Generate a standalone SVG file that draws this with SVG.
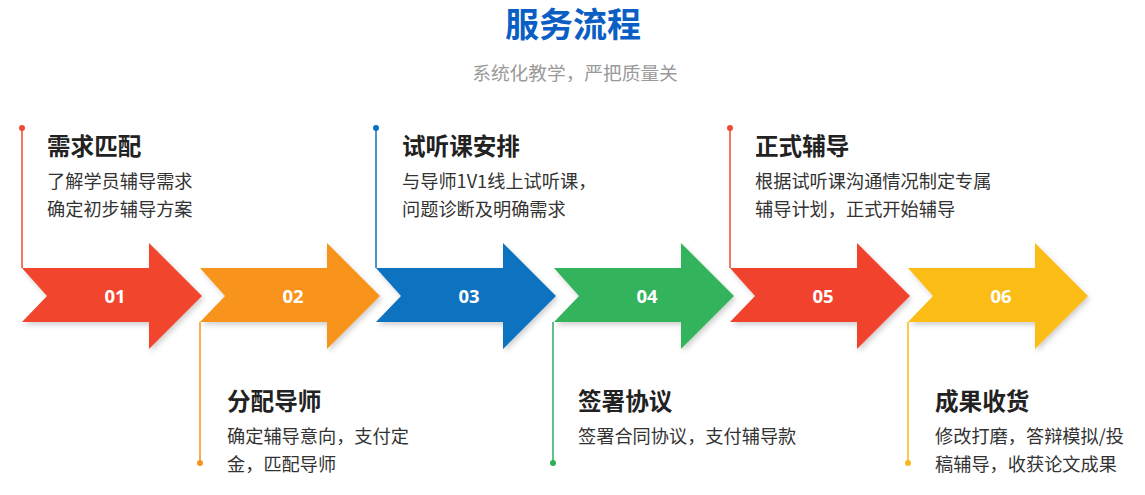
<svg xmlns="http://www.w3.org/2000/svg" width="1145" height="495" viewBox="0 0 1145 495">
<defs>
<filter id="sh" x="-10%" y="-10%" width="130%" height="130%">
<feDropShadow dx="2" dy="3" stdDeviation="2.5" flood-color="#000" flood-opacity="0.18"/>
</filter>
<path id="arrow" d="M0,268 H127 V243 L180,296 L127,349 V322 H0 L25,296 Z"/>
</defs>
<style>
.h{font-family:"Noto Sans CJK SC","Noto Sans",sans-serif;font-weight:700;font-size:34px;fill:#0B5FC4;text-anchor:middle}
.sub{font-family:"Noto Sans CJK SC","Noto Sans",sans-serif;font-size:18.7px;fill:#9a9a9a;text-anchor:middle}
.t{font-family:"Noto Sans CJK SC","Noto Sans",sans-serif;font-weight:700;font-size:23.6px;fill:#222}
.d{font-family:"Noto Sans CJK SC","Noto Sans",sans-serif;font-size:18.2px;fill:#333}
.n{font-family:"Open Sans","Noto Sans",sans-serif;font-weight:700;font-size:18.5px;fill:#fff;text-anchor:middle}
.ln{stroke-width:1.5;fill:none}
</style>
<rect width="1145" height="495" fill="#ffffff"/>
<text class="h" x="573" y="37">服务流程</text>
<text class="sub" x="575" y="80">系统化教学，严把质量关</text>

<g id="connectors">
<line class="ln" x1="22" y1="128" x2="22" y2="268" stroke="#EE4A33"/>
<circle cx="22" cy="128" r="3" fill="#EE4A33"/>
<line class="ln" x1="200" y1="322" x2="200" y2="463" stroke="#F7931E"/>
<circle cx="200" cy="463" r="3" fill="#F7931E"/>
<line class="ln" x1="376" y1="128" x2="376" y2="268" stroke="#0B72C0"/>
<circle cx="376" cy="128" r="3" fill="#0B72C0"/>
<line class="ln" x1="553" y1="322" x2="553" y2="463" stroke="#2EAE57"/>
<circle cx="553" cy="463" r="3" fill="#2EAE57"/>
<line class="ln" x1="730" y1="128" x2="730" y2="268" stroke="#EE4A33"/>
<circle cx="730" cy="128" r="3" fill="#EE4A33"/>
<line class="ln" x1="908" y1="322" x2="908" y2="463" stroke="#F9B81B"/>
<circle cx="908" cy="463" r="3" fill="#F9B81B"/>
</g>

<g id="step1">
<use href="#arrow" x="22" fill="#F1452F" filter="url(#sh)"/>
<text class="n" x="115" y="303">01</text>
<text class="t" x="47" y="155">需求匹配</text>
<text class="d" x="47" y="188">了解学员辅导需求</text>
<text class="d" x="47" y="216">确定初步辅导方案</text>
</g>
<g id="step2">
<use href="#arrow" x="200" fill="#F8931D" filter="url(#sh)"/>
<text class="n" x="293" y="303">02</text>
<text class="t" x="227" y="410">分配导师</text>
<text class="d" x="227" y="443">确定辅导意向，支付定</text>
<text class="d" x="227" y="471">金，匹配导师</text>
</g>
<g id="step3">
<use href="#arrow" x="376" fill="#0B73C1" filter="url(#sh)"/>
<text class="n" x="469" y="303">03</text>
<text class="t" x="402" y="155">试听课安排</text>
<text class="d" x="402" y="188">与导师1V1线上试听课，</text>
<text class="d" x="402" y="216">问题诊断及明确需求</text>
</g>
<g id="step4">
<use href="#arrow" x="554" fill="#30B35B" filter="url(#sh)"/>
<text class="n" x="647" y="303">04</text>
<text class="t" x="578" y="410">签署协议</text>
<text class="d" x="578" y="443">签署合同协议，支付辅导款</text>
</g>
<g id="step5">
<use href="#arrow" x="730" fill="#F1432E" filter="url(#sh)"/>
<text class="n" x="823" y="303">05</text>
<text class="t" x="755" y="155">正式辅导</text>
<text class="d" x="755" y="188">根据试听课沟通情况制定专属</text>
<text class="d" x="755" y="216">辅导计划，正式开始辅导</text>
</g>
<g id="step6">
<use href="#arrow" x="908" fill="#FBBC17" filter="url(#sh)"/>
<text class="n" x="1001" y="303">06</text>
<text class="t" x="935" y="410">成果收货</text>
<text class="d" x="935" y="443">修改打磨，答辩模拟/投</text>
<text class="d" x="935" y="471">稿辅导，收获论文成果</text>
</g>
</svg>
